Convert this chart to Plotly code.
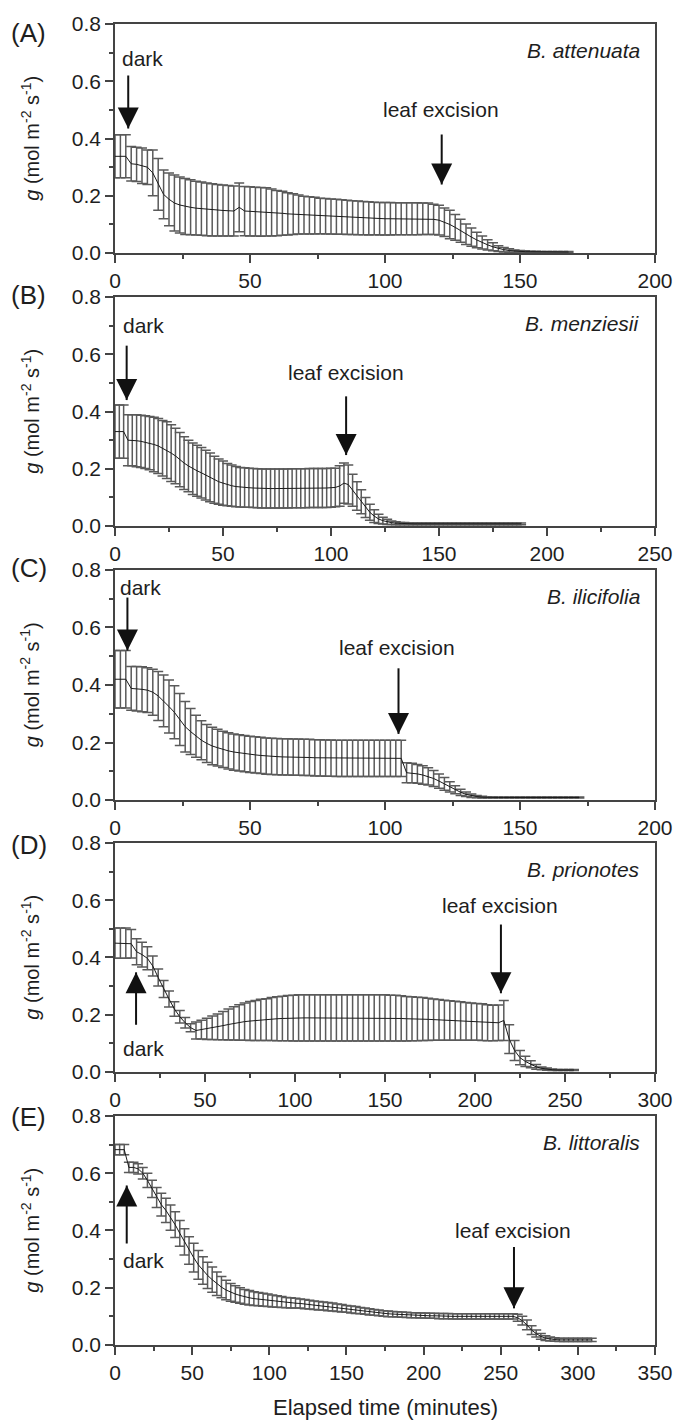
import plotly.graph_objects as go

# ---------------- data ----------------
t_A = [0,2,4,6,8,10,12,14,16,18,20,22,24,26,28,30,32,34,36,38,40,42,44,46,48,50,52,54,56,58,60,62,64,66,68,70,72,74,76,78,80,82,84,86,88,90,92,94,96,98,100,102,104,106,108,110,112,114,116,118,120,122,124,126,128,130,132,134,136,138,140,142,144,146,148,150,152,154,156,158,160,162,164,166,168]
mean_A = [.338,.338,.338,.312,.31,.305,.3,.28,.24,.205,.188,.175,.168,.163,.16,.157,.155,.153,.151,.15,.149,.148,.147,.16,.147,.146,.145,.144,.144,.142,.14,.139,.137,.136,.135,.133,.132,.131,.13,.129,.128,.127,.126,.125,.124,.123,.122,.121,.121,.12,.12,.12,.12,.12,.12,.12,.12,.12,.12,.118,.115,.108,.1,.09,.078,.066,.056,.046,.037,.029,.022,.016,.012,.009,.007,.006,.005,.005,.005,.004,.004,.004,.004,.004,.004]
sd_A = [.075,.075,.075,.06,.06,.062,.06,.08,.09,.085,.092,.098,.098,.098,.096,.094,.093,.092,.091,.09,.089,.088,.087,.085,.086,.086,.085,.085,.084,.082,.079,.077,.074,.071,.068,.066,.065,.064,.062,.062,.061,.061,.06,.06,.059,.059,.058,.058,.057,.057,.057,.057,.056,.056,.056,.056,.056,.055,.055,.053,.052,.05,.05,.045,.04,.036,.032,.027,.023,.018,.014,.01,.008,.006,.004,.003,.003,.002,.002,.002,.002,.002,.002,.002,.002]

t_B = [0,2,4,6,8,10,12,14,16,18,20,22,24,26,28,30,32,34,36,38,40,42,44,46,48,50,52,54,56,58,60,62,64,66,68,70,72,74,76,78,80,82,84,86,88,90,92,94,96,98,100,102,104,106,108,110,112,114,116,118,120,122,124,126,128,130,132,134,136,138,140,142,144,146,148,150,152,154,156,158,160,162,164,166,168,170,172,174,176,178,180,182,184,186,188]
mean_B = [.33,.33,.33,.30,.30,.298,.296,.293,.29,.285,.28,.272,.265,.255,.245,.232,.22,.21,.2,.193,.186,.178,.17,.162,.155,.15,.145,.141,.138,.136,.135,.134,.133,.132,.131,.131,.131,.131,.131,.131,.131,.132,.132,.132,.132,.133,.133,.133,.133,.133,.134,.135,.14,.15,.145,.125,.105,.085,.065,.048,.035,.025,.019,.015,.012,.01,.009,.009,
          .008,.008,.008,.008,.008,.008,.008,.008,.008,.008,.008,.008,.008,.008,.008,.008,.008,.008,.008,.008,.008,.008,.008,.008,.008,.008,.008]
sd_B = [.093,.093,.093,.089,.089,.091,.091,.092,.093,.095,.096,.097,.099,.099,.097,.095,.092,.09,.09,.089,.088,.087,.085,.082,.079,.077,.074,.072,.07,.069,.069,
        .068,.068,.068,.068,.068,.068,.068,.068,.068,.068,.068,.068,.068,.068,.068,.068,.068,.068,.068,.068,
        .067,.071,.07,.068,.056,.05,.042,.035,.028,.022,.016,.012,.009,.006,.005,.004,.004,
        .003,.003,.003,.003,.003,.003,.003,.003,.003,.003,.003,.003,.003,.003,.003,.003,.003,.003,.003,.003,.003,.003,.003,.003,.003,.003,.003]

t_C = [0,2,4,6,8,10,12,14,16,18,20,22,24,26,28,30,32,34,36,38,40,42,44,46,48,50,52,54,56,58,60,62,64,66,68,70,72,74,76,78,80,82,84,86,88,90,92,94,96,98,100,102,104,106,108,110,112,114,116,118,120,122,124,126,128,130,132,134,136,138,140,142,144,146,148,150,152,154,156,158,160,162,164,166,168,170,172]
mean_C = [.42,.42,.42,.388,.387,.385,.382,.375,.362,.345,.325,.305,.28,.255,.238,.222,.208,.197,.188,.182,.176,.171,.167,.164,.161,.159,.157,.155,.153,.152,.151,.15,.15,.149,.149,.148,.148,.147,.147,.146,.146,
          .145,.145,.145,.145,.145,.145,.145,.145,.145,.145,.145,.145,.145,
          .095,.094,.091,.087,.082,.075,.066,.056,.046,.036,.027,.02,.015,.012,.01,
          .009,.009,.009,.009,.009,.009,.009,.009,.009,.009,.009,.009,.009,.009,.009,.009,.009,.009]
sd_C = [.1,.1,.1,.076,.077,.078,.078,.08,.085,.09,.092,.092,.09,.088,.08,.073,.068,.066,.065,.064,
        .063,.063,.063,.063,.063,.063,.063,.063,.063,.063,.063,.063,.063,.063,.063,.063,.063,.063,.063,.063,.063,.063,.063,.063,.063,.063,.063,.063,.063,.063,.063,.063,.063,.063,
        .035,.034,.033,.032,.03,.028,.025,.022,.018,.014,.011,.008,.006,.004,.003,
        .002,.002,.002,.002,.002,.002,.002,.002,.002,.002,.002,.002,.002,.002,.002,.002,.002,.002]

t_D = [0,3,6,9,12,15,18,21,24,27,30,33,36,39,42,45,48,51,54,57,60,63,66,69,72,75,78,81,84,87,90,93,96,99,102,105,108,111,114,117,120,123,126,129,132,135,138,141,144,147,150,153,156,159,162,165,168,171,174,177,180,183,186,189,192,195,198,201,204,207,210,213,216,219,222,225,228,231,234,237,240,243,246,249,252,255]
mean_D = [.45,.45,.45,.448,.42,.41,.397,.37,.33,.29,.255,.22,.193,.172,.155,.145,.148,.151,.155,.158,.162,.166,.17,.173,.176,.178,.18,.182,.183,.185,.186,.187,.188,.188,
          .189,.189,.189,.189,.189,.189,.189,.189,.189,.189,.189,.189,.189,.189,.189,.189,.189,
          .188,.188,.187,.186,.186,.185,.185,.184,.183,.182,.181,.18,.179,.178,.177,.176,.175,.174,.172,.171,.172,.18,.115,.075,.05,.037,.027,.018,.013,.01,.008,.007,.007,.007,.007]
sd_D = [.053,.053,.053,.05,.045,.043,.04,.035,.03,.03,.028,.025,.022,.018,.014,.03,.033,.037,.041,.045,.049,.054,.058,.062,.065,.068,.07,.072,.073,.075,.077,.078,.079,.08,
        .081,.081,.081,.081,.081,.081,.081,.081,.081,.081,.081,.081,.081,.081,.081,.081,.081,
        .08,.08,.079,.078,.077,.076,.075,.074,.072,.071,.07,.069,.068,.067,.066,.065,.064,.064,.063,.062,.062,.07,.05,.035,.025,.018,.012,.008,.005,.004,.003,.002,.002,.002,.002]

t_E = [0,3,6,9,12,15,18,21,24,27,30,33,36,39,42,45,48,51,54,57,60,63,66,69,72,75,78,81,84,87,90,93,96,99,102,105,108,111,114,117,120,123,126,129,132,135,138,141,144,147,150,153,156,159,162,165,168,171,174,177,180,183,186,189,192,195,198,201,204,207,210,213,216,219,222,225,228,231,234,237,240,243,246,249,252,255,258,261,264,267,270,273,276,279,282,285,288,291,294,297,300,303,306,309]
mean_E = [.682,.682,.682,.62,.62,.615,.6,.575,.545,.515,.49,.47,.445,.42,.39,.36,.33,.305,.28,.26,.243,.228,.214,.202,.192,.184,.178,.173,.168,.165,.162,.16,.158,.156,.154,.152,.15,.148,.147,.146,.145,.143,.141,.139,.137,.136,.134,.133,.13,.128,.126,.124,.122,.12,.118,.116,.114,.112,.11,.109,.108,.107,.106,.105,.104,.104,.103,.103,.102,.102,.101,.101,.101,.1,.1,.1,.1,.1,.1,.1,.1,.1,.1,.1,.1,.1,.1,.095,.085,.07,.052,.04,.03,.024,.021,.019,.018,.018,.018,.018,.018,.018,.018,.018]
sd_E = [.018,.018,.018,.018,.018,.018,.02,.025,.03,.035,.04,.042,.044,.045,.045,.046,.048,.05,.05,.048,.046,.044,.041,.037,.034,.031,.029,.027,.026,.025,.024,.023,.023,.022,.021,.02,.019,.018,.018,.017,.016,.016,.015,.015,.015,.014,.014,.014,.013,.013,.012,.012,.012,.011,.011,.011,.01,.01,.01,.01,
        .009,.009,.009,.009,.009,.009,.009,.009,.009,.009,.009,.009,.009,.009,.009,.009,.009,.009,.009,.009,.009,.009,.009,.009,.009,.009,.009,
        .012,.015,.017,.015,.012,.01,.008,.007,
        .006,.006,.006,.006,.006,.006,.006,.006,.006]

species = ["B. attenuata", "B. menziesii", "B. ilicifolia", "B. prionotes", "B. littoralis"]
panel_labels = ["(A)", "(B)", "(C)", "(D)", "(E)"]
x_max = [200, 250, 200, 300, 350]
y_tick_vals = [0.0, 0.2, 0.4, 0.6, 0.8]

# annotation anchors (data units): arrow x, tip, tail, text x, text y
dark_arrow = [(4.9, .435, .62, 2.0, .68), (5.4, .44, .63, 2.6, .70), (4.6, .52, .704, 1.2, .74),
              (11.7, .348, .165, 3.1, .083), (7.6, .557, .354, 3.7, .296)]
leaf_arrow = [(121, .24, .414, 120.6, .50), (107, .248, .453, 107, .538), (105, .23, .458, 104.4, .53),
              (214.4, .275, .515, 213.9, .58), (258.6, .128, .342, 258, .40)]

series = [(t_A, mean_A, sd_A), (t_B, mean_B, sd_B), (t_C, mean_C, sd_C), (t_D, mean_D, sd_D), (t_E, mean_E, sd_E)]
for t, m, s in series:
    assert len(t) == len(m) == len(s), (len(t), len(m), len(s))

# ---------------- figure ----------------
FONT = "Liberation Sans, Arial, Helvetica, sans-serif"
TXT = "#1e1e1e"
W, H = 696, 1421
ML, MR, MT, MB = 115, 41, 19, 76
plot_h = H - MT - MB
panel_px = [(19, 249), (293, 523), (567, 798), (841, 1071), (1115, 1345)]
label_px = [28, 291, 565, 843, 1116]

def py(px):
    return (H - MB - px) / plot_h

fig = go.Figure()
annotations = []
layout_axes = {}

def add_arrow(xr, yr, ax, tip, tail):
    fig.add_trace(go.Scatter(x=[ax, ax], y=[tail, tip], mode="lines", xaxis=xr, yaxis=yr,
                             showlegend=False, hoverinfo="skip",
                             line=dict(color="#111111", width=2)))
    sym = "arrow-down" if tail > tip else "arrow-up"
    fig.add_trace(go.Scatter(x=[ax], y=[tip], mode="markers", xaxis=xr, yaxis=yr,
                             showlegend=False, hoverinfo="skip",
                             marker=dict(symbol=sym, size=21, color="#111111",
                                         line=dict(width=0))))

for i, (t, m, s) in enumerate(series):
    k = "" if i == 0 else str(i + 1)
    xr, yr = "x" + k, "y" + k
    fig.add_trace(go.Scatter(
        x=t, y=m, mode="lines", xaxis=xr, yaxis=yr, showlegend=False,
        line=dict(color="#1a1a1a", width=1),
        error_y=dict(type="data", array=s, visible=True, color="#5a5a5a", thickness=1.5, width=5),
    ))
    top, bot = panel_px[i]
    axis_common = dict(showline=True, linewidth=1.5, linecolor="#444444", mirror=True,
                       showgrid=False, zeroline=False, ticks="outside", ticklen=8, tickwidth=1.5,
                       tickcolor="#444444", tickfont=dict(family=FONT, size=21, color=TXT))
    layout_axes["xaxis" + k] = dict(axis_common, domain=[0, 1], range=[0, x_max[i]], dtick=50, tick0=0,
                                    anchor=yr,
                                    minor=dict(ticks="outside", ticklen=4, dtick=25, tick0=0, tickwidth=1.5, tickcolor="#444444"))
    layout_axes["yaxis" + k] = dict(axis_common, domain=[py(bot), py(top)], range=[0, 0.8],
                                    tickvals=y_tick_vals, tickformat=".1f", anchor=xr,
                                    minor=dict(ticks="outside", ticklen=4, dtick=0.1, tick0=0, tickwidth=1.5, tickcolor="#444444"))
    # y title
    annotations.append(dict(xref="paper", yref=yr + " domain", x=-0.157, y=0.5, textangle=-90,
                            text="<i>g</i> (mol m<sup>-2</sup> s<sup>-1</sup>)", showarrow=False,
                            xanchor="center", yanchor="middle", font=dict(family=FONT, size=20, color=TXT)))
    # panel label
    annotations.append(dict(xref="paper", yref="paper", x=-0.197, y=py(label_px[i]), text=panel_labels[i],
                            showarrow=False, xanchor="left", yanchor="middle",
                            font=dict(family=FONT, size=26, color=TXT)))
    # species
    annotations.append(dict(xref=xr + " domain", yref=yr + " domain", x=0.975, y=0.883,
                            text="<i>" + species[i] + "</i>", showarrow=False, xanchor="right", yanchor="middle",
                            font=dict(family=FONT, size=21, color=TXT)))
    # dark arrow + text
    dx, dtip, dtail, dtx, dty = dark_arrow[i]
    add_arrow(xr, yr, dx, dtip, dtail)
    annotations.append(dict(xref=xr, yref=yr, x=dtx, y=dty, text="dark", showarrow=False,
                            xanchor="left", yanchor="middle", font=dict(family=FONT, size=21, color=TXT)))
    # leaf excision arrow + text
    lx, ltip, ltail, ltx, lty = leaf_arrow[i]
    add_arrow(xr, yr, lx, ltip, ltail)
    annotations.append(dict(xref=xr, yref=yr, x=ltx, y=lty, text="leaf excision", showarrow=False,
                            xanchor="center", yanchor="middle", font=dict(family=FONT, size=21, color=TXT)))

annotations.append(dict(xref="paper", yref="paper", x=0.5, y=py(1408), text="Elapsed time (minutes)",
                        showarrow=False, xanchor="center", yanchor="middle",
                        font=dict(family=FONT, size=22, color=TXT)))

fig.update_layout(width=W, height=H, margin=dict(l=ML, r=MR, t=MT, b=MB),
                  paper_bgcolor="white", plot_bgcolor="white", showlegend=False,
                  annotations=annotations, **layout_axes)

fig.write_html("out.html")
